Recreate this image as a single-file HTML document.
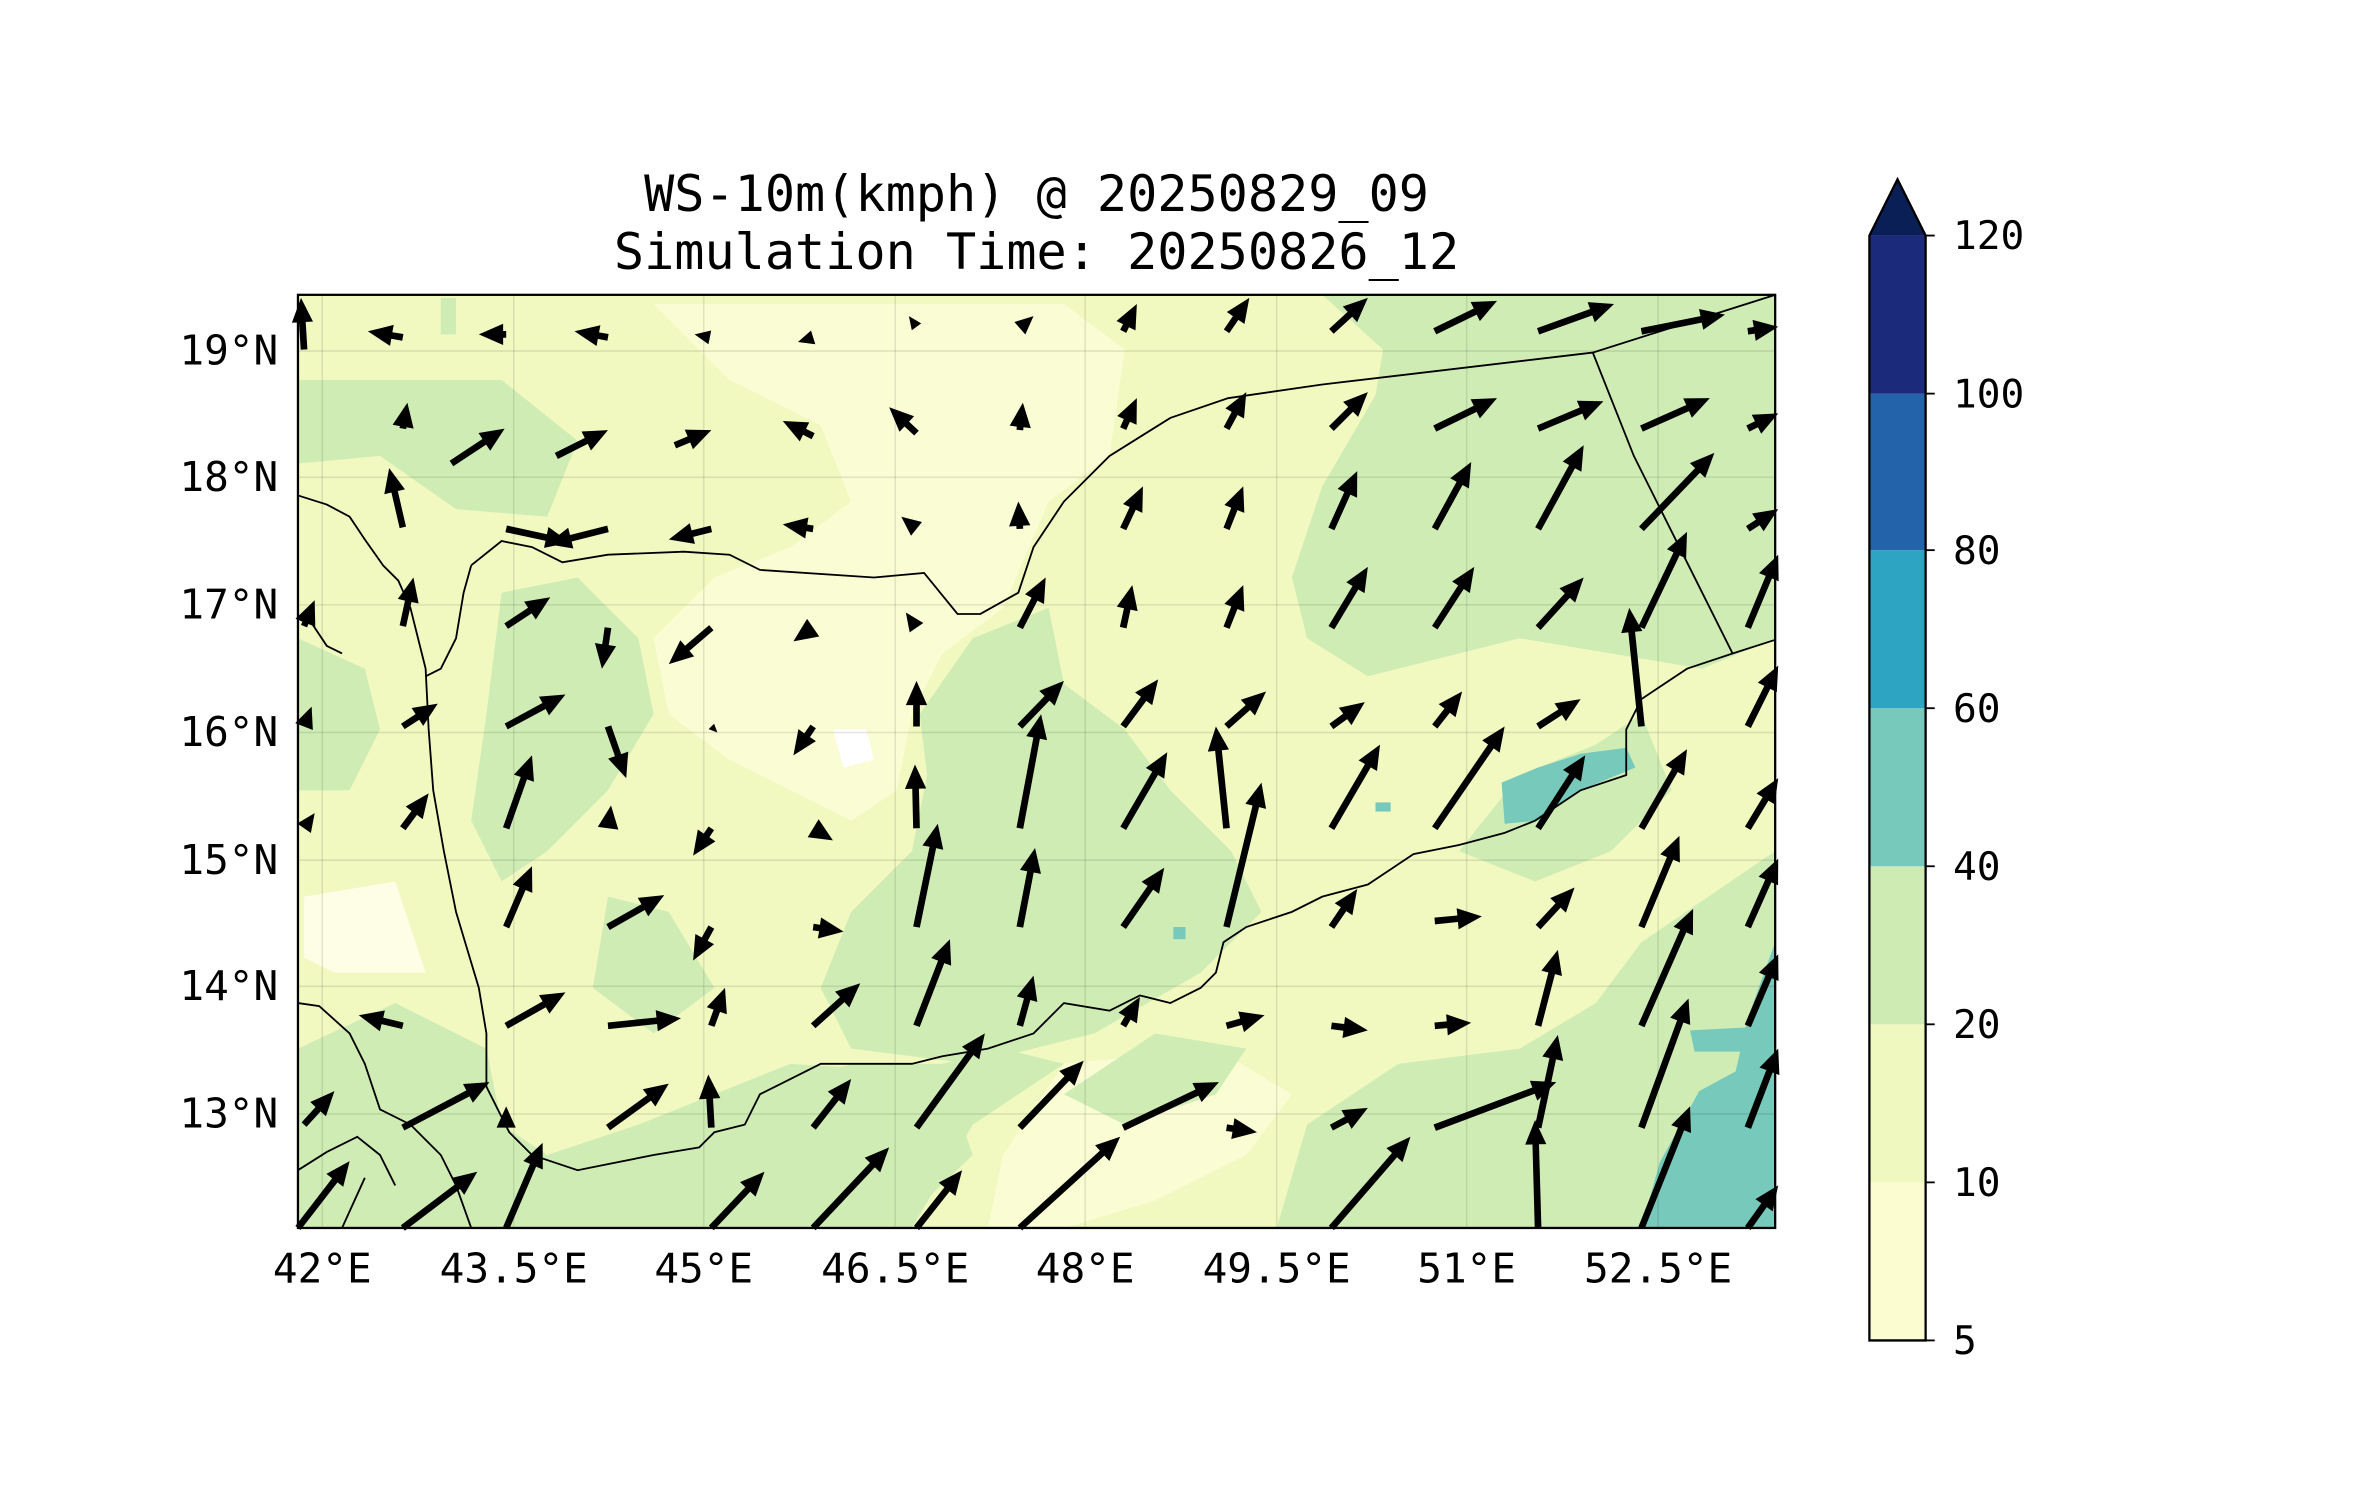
<!DOCTYPE html>
<html><head><meta charset="utf-8"><style>
html,body{margin:0;padding:0;background:#fff}
svg{display:block}
text{font-family:"DejaVu Sans Mono","Liberation Mono",monospace;fill:#000}
</style></head><body>
<svg id="s" width="2371" height="1500" viewBox="0 0 1560 987" xmlns="http://www.w3.org/2000/svg">
<defs><clipPath id="c"><rect x="196" y="194" width="972" height="614"/></clipPath></defs>
<g clip-path="url(#c)">
<rect x="196" y="194" width="972" height="614" fill="#f1f9c1"/>
<path d="M430,200 L700,200 L740,230 L730,300 L690,330 L660,400 L620,430 L600,470 L590,520 L560,540 L520,520 L480,500 L440,470 L430,420 L470,380 L520,360 L560,330 L540,280 L480,250 Z" fill="#fafdd3"/>
<path d="M700,700 L800,690 L850,720 L820,760 L760,790 L700,808 L650,808 L660,760 Z" fill="#fafdd3"/>
<path d="M360,760 L420,770 L450,808 L360,808 Z" fill="#fff"/>
<path d="M200,590 L260,580 L280,640 L220,640 L200,630 Z" fill="#fdfee5"/>
<path d="M548,480 L570,480 L575,500 L555,505 Z" fill="#fff"/>
<path fill="#d0ecb5" d="M870,194 L1168,194 L1168,420 L1120,440 L1060,430 L1000,420 L960,430 L900,445 L860,420 L850,380 L870,320 L905,260 L910,230 Z"/>
<path fill="#d0ecb5" d="M605,470 L640,420 L690,400 L700,450 L740,480 L770,520 L810,560 L830,600 L790,640 L720,680 L640,700 L560,690 L540,650 L560,600 L600,560 L610,510 Z"/>
<path fill="#d0ecb5" d="M196,690 L260,660 L320,690 L330,740 L360,760 L420,740 L470,720 L520,700 L600,705 L660,690 L700,700 L640,740 L600,808 L196,808 Z"/>
<path fill="#d0ecb5" d="M500,720 L560,700 L620,700 L640,760 L590,808 L480,808 L470,780 Z"/>
<path fill="#d0ecb5" d="M840,808 L860,740 L920,700 L1000,690 L1050,660 L1080,620 L1168,560 L1168,808 Z"/>
<path fill="#d0ecb5" d="M960,560 L1000,510 L1050,490 L1080,470 L1100,520 L1060,560 L1010,580 Z"/>
<path fill="#d0ecb5" d="M196,250 L330,250 L380,290 L360,340 L300,335 L250,300 L196,305 Z"/>
<path fill="#d0ecb5" d="M330,390 L380,380 L420,420 L430,470 L400,520 L360,560 L330,580 L310,540 L320,470 Z"/>
<path fill="#d0ecb5" d="M196,420 L240,440 L250,480 L230,520 L196,520 Z"/>
<path fill="#d0ecb5" d="M400,590 L440,600 L470,650 L430,680 L390,650 Z"/>
<path fill="#d0ecb5" d="M700,720 L760,680 L820,690 L800,720 L740,740 Z"/>
<path fill="#d0ecb5" d="M290,196 L300,196 L300,220 L290,220 Z"/>
<path fill="#76c9bb" d="M1080,808 L1092,765 L1118,718 L1142,705 L1150,670 L1168,620 L1168,808 Z"/>
<path fill="#76c9bb" d="M1112,678 L1150,676 L1150,692 L1115,692 Z"/>
<path fill="#76c9bb" d="M988,515 L1012,505 L1040,496 L1070,492 L1076,505 L1040,520 L1012,540 L990,542 Z"/>
<path fill="#76c9bb" d="M905,528 L915,528 L915,534 L905,534 Z"/>
<path fill="#76c9bb" d="M772,610 L780,610 L780,618 L772,618 Z"/>
<g stroke="#000" stroke-opacity="0.1" stroke-width="1">
<line x1="196" y1="231" x2="1168" y2="231"/><line x1="196" y1="314" x2="1168" y2="314"/><line x1="196" y1="398" x2="1168" y2="398"/><line x1="196" y1="482" x2="1168" y2="482"/><line x1="196" y1="566" x2="1168" y2="566"/><line x1="196" y1="649" x2="1168" y2="649"/><line x1="196" y1="733" x2="1168" y2="733"/>
<line x1="212" y1="194" x2="212" y2="808"/><line x1="338" y1="194" x2="338" y2="808"/><line x1="463" y1="194" x2="463" y2="808"/><line x1="589" y1="194" x2="589" y2="808"/><line x1="714" y1="194" x2="714" y2="808"/><line x1="840" y1="194" x2="840" y2="808"/><line x1="965" y1="194" x2="965" y2="808"/><line x1="1091" y1="194" x2="1091" y2="808"/>
</g>
<g fill="none" stroke="#000" stroke-width="1.2">
<polyline points="310,372 330,356 350,360 370,370 400,365 450,363 480,365 500,375 575,380 608,377 630,404 645,404 670,390 680,360 700,330 730,300 770,275 808,262 870,253 1048,232 1168,194"/>
<polyline points="1048,232 1075,300 1110,370 1140,430"/>
<polyline points="1168,421 1140,430 1110,440 1080,460 1070,480 1070,510 1040,520 1010,540 990,548 960,556 930,562 900,582 870,590 850,600 820,610 805,620 800,640 790,650 770,660 750,655 730,665 700,660 680,680 650,690 620,695 600,700 570,700 540,700 520,710 500,720 490,740 470,745 460,755 430,760 400,766 380,770 350,760 335,745 320,715 320,680 315,650 300,600 292,560 285,520 282,480 280,440 270,400 262,382 252,372 240,355 230,340 215,332 196,326"/>
<polyline points="310,372 305,390 300,420 290,440 280,445"/>
<polyline points="196,660 210,662 230,680 240,700 250,730 270,740 290,760 300,780 310,808"/>
<polyline points="196,770 215,758 235,748 250,760 260,780"/>
<polyline points="225,808 240,775"/>
<polyline points="196,405 205,410 215,425 225,430"/>
</g>
</g>
<rect x="196" y="194" width="972" height="614" fill="none" stroke="#000" stroke-width="1.5"/>
<g id="arr"></g>
<text x="682" y="139" font-size="33" text-anchor="middle">WS-10m(kmph) @ 20250829_09</text>
<text x="682" y="177" font-size="33" text-anchor="middle">Simulation Time: 20250826_12</text>
<g font-size="27" text-anchor="end">
<text x="183" y="240">19°N</text><text x="183" y="323">18°N</text><text x="183" y="407">17°N</text><text x="183" y="491">16°N</text><text x="183" y="575">15°N</text><text x="183" y="658">14°N</text><text x="183" y="742">13°N</text>
</g>
<g font-size="27" text-anchor="middle">
<text x="212" y="844">42°E</text><text x="338" y="844">43.5°E</text><text x="463" y="844">45°E</text><text x="589" y="844">46.5°E</text><text x="714" y="844">48°E</text><text x="840" y="844">49.5°E</text><text x="965" y="844">51°E</text><text x="1091" y="844">52.5°E</text>
</g>
<rect x="1230" y="778" width="37" height="104" fill="#fbfdd1"/>
<rect x="1230" y="674" width="37" height="104" fill="#eef8bf"/>
<rect x="1230" y="570" width="37" height="104" fill="#cfebb4"/>
<rect x="1230" y="466" width="37" height="104" fill="#76c9bb"/>
<rect x="1230" y="362" width="37" height="104" fill="#2ca4c2"/>
<rect x="1230" y="259" width="37" height="103" fill="#2263a9"/>
<rect x="1230" y="155" width="37" height="104" fill="#1c2a7c"/>
<polygon points="1230,155 1248.5,118 1267,155" fill="#0a1f55"/>
<polygon points="1230,882 1230,155 1248.5,118 1267,155 1267,882" fill="none" stroke="#000" stroke-width="1.5"/>
<g stroke="#000" stroke-width="1.2">
<line x1="1267" y1="882" x2="1273" y2="882"/><line x1="1267" y1="778" x2="1273" y2="778"/><line x1="1267" y1="674" x2="1273" y2="674"/><line x1="1267" y1="570" x2="1273" y2="570"/><line x1="1267" y1="466" x2="1273" y2="466"/><line x1="1267" y1="362" x2="1273" y2="362"/><line x1="1267" y1="259" x2="1273" y2="259"/><line x1="1267" y1="155" x2="1273" y2="155"/>
</g>
<g font-size="26">
<text x="1285" y="891">5</text><text x="1285" y="787">10</text><text x="1285" y="683">20</text><text x="1285" y="579">40</text><text x="1285" y="475">60</text><text x="1285" y="371">80</text><text x="1285" y="268">100</text><text x="1285" y="164">120</text>
</g>
</svg>
<script>
var A=[
[200,230,198,196],[265,222,242,218],[333,220,315,220],[400,222,378,218],[467,222,457,220],[535,222,525,225],[603,215,598,208],[671,216,680,208],[739,218,748,200],[807,218,822,196],[876,218,900,196],[944,218,985,198],[1012,218,1062,200],[1080,218,1135,207],[1150,218,1170,215],
[265,282,268,265],[297,305,332,282],[366,300,400,283],[444,293,468,283],[535,287,515,277],[603,285,585,268],[671,283,673,265],[739,282,748,262],[807,282,820,258],[876,282,900,258],[944,282,985,262],[1012,282,1055,264],[1080,282,1125,262],[1150,282,1170,272],
[265,347,256,308],[333,348,375,357],[400,348,360,358],[468,348,440,355],[535,348,515,345],[603,348,593,340],[671,348,670,330],[739,348,752,320],[807,348,818,320],[876,348,893,310],[944,348,968,304],[1012,348,1042,293],[1080,348,1128,298],[1150,348,1170,335],
[200,412,207,395],[265,412,272,380],[333,412,362,393],[400,413,396,440],[468,413,440,437],[535,413,522,422],[603,413,596,403],[671,413,688,380],[739,413,745,385],[807,413,818,385],[876,413,900,373],[944,413,970,373],[1012,413,1042,380],[1080,413,1110,350],[1080,478,1072,400],[1150,413,1170,365],
[200,478,205,465],[265,478,288,463],[333,478,372,457],[400,478,412,512],[468,478,472,482],[535,478,522,497],[603,478,603,448],[671,478,700,448],[739,478,762,447],[807,478,833,455],[876,478,898,462],[944,478,962,455],[1012,478,1040,460],[1150,478,1170,438],
[200,545,207,535],[265,545,282,522],[333,545,350,497],[400,545,402,530],[468,545,456,563],[535,545,548,553],[603,545,602,503],[671,545,685,470],[739,545,768,495],[807,545,800,478],[876,545,908,490],[944,545,990,478],[1012,545,1043,497],[1080,545,1110,493],[1150,545,1170,512],
[333,610,350,570],[400,610,437,589],[468,610,456,632],[535,610,555,613],[603,610,617,542],[671,610,681,558],[739,610,766,571],[807,610,830,515],[876,610,893,585],[944,606,975,603],[1012,610,1036,584],[1080,610,1105,550],[1150,610,1170,565],
[265,675,236,668],[333,675,372,653],[400,675,448,670],[468,675,477,650],[535,675,566,647],[603,675,625,618],[671,675,680,642],[739,675,750,656],[807,675,832,668],[876,675,900,678],[944,675,968,673],[1012,675,1025,625],[1080,675,1114,598],[1150,675,1170,628],
[200,740,220,718],[265,742,322,712],[333,742,333,728],[400,742,440,713],[468,742,466,707],[535,742,560,710],[603,742,648,680],[671,742,713,698],[739,742,802,712],[807,742,827,745],[876,742,900,729],[944,742,1024,712],[1012,742,1025,681],[1080,742,1111,657],[1150,742,1170,690],
[196,808,230,764],[265,808,314,771],[333,808,357,752],[468,808,503,771],[535,808,585,755],[603,808,633,770],[671,808,737,748],[876,808,928,748],[1012,808,1010,737],[1080,808,1112,728],[1150,808,1170,780]
];
var g=document.getElementById('arr'),s='';
A.forEach(function(a){
 var dx=a[2]-a[0],dy=a[3]-a[1],L=Math.sqrt(dx*dx+dy*dy);if(L<1)return;
 var ux=dx/L,uy=dy/L,px=-uy,py=ux;
 var hl=Math.min(16,L),hw=Math.min(7,L*0.45),sw=2.2;
 var bx=a[2]-ux*hl,by=a[3]-uy*hl;
 var p=[[a[0]+px*sw,a[1]+py*sw],[bx+px*sw,by+py*sw],[bx+px*hw,by+py*hw],[a[2],a[3]],[bx-px*hw,by-py*hw],[bx-px*sw,by-py*sw],[a[0]-px*sw,a[1]-py*sw]];
 if(L<=16)p=[[bx+px*hw,by+py*hw],[a[2],a[3]],[bx-px*hw,by-py*hw]];
 s+='<polygon fill="#000" points="'+p.map(function(q){return q[0].toFixed(1)+','+q[1].toFixed(1)}).join(' ')+'"/>';
});
g.innerHTML=s;
</script>
</body></html>
